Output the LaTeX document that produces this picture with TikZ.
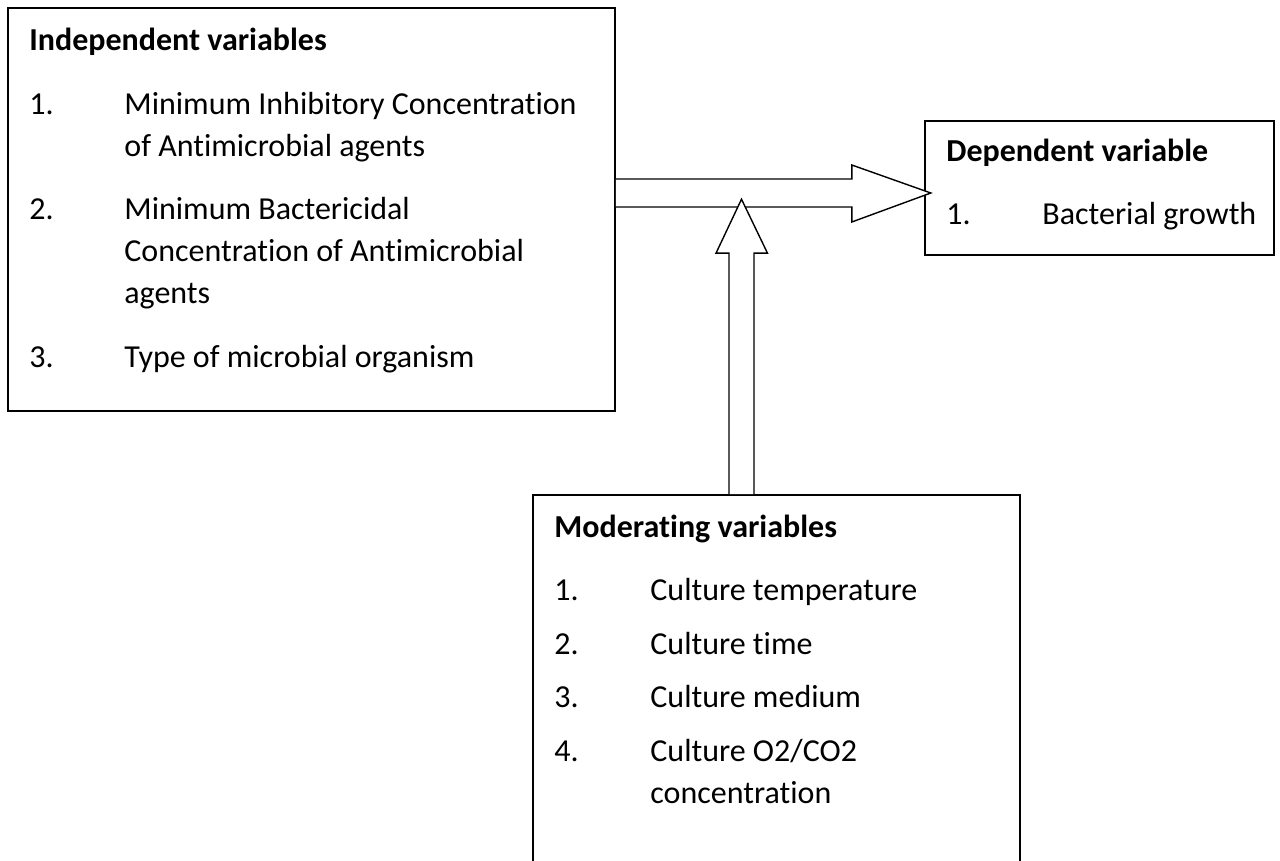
\documentclass[tikz,border=0pt]{standalone}
\usepackage{fontspec}
\setmainfont{Carlito}[Ligatures=NoCommon]
\usepackage{tikz}
\usetikzlibrary{fit}

\tikzset{
	varbox/.style={draw, line width=0.8pt, inner sep=0pt},
	heading/.style={anchor=base west, inner sep=0pt, font=\fontsize{16}{21}\selectfont\bfseries},
	itemno/.style={anchor=base west, inner sep=0pt},
	itemtxt/.style={anchor=base west, inner sep=0pt},
	blockarrow/.style={draw, fill=white, line width=0.7pt, line join=miter}
}

\begin{document}
\begin{tikzpicture}[x=0.5pt, y=-0.5pt, font=\fontsize{16}{21}\selectfont]
	\useasboundingbox (0,0) rectangle (1280,861);
	\clip (0,0) rectangle (1280,861);
	% boxes
	\node [varbox, fit={(8,8) (615,411)}] (indep) {};
	\node [varbox, fit={(925,121) (1274,255)}] (dep) {};
	\node [varbox, fit={(533,495) (1020,900)}] (moder) {};
	% independent variables
	\node [heading] (indephead) at (29,51) {Independent variables};
	\node [itemno] (indepno1) at (29,115) {1.};
	\node [itemtxt] (indeptxt1a) at (124,115) {Minimum Inhibitory Concentration};
	\node [itemtxt] (indeptxt1b) at (124,157) {of Antimicrobial agents};
	\node [itemno] (indepno2) at (29,220) {2.};
	\node [itemtxt] (indeptxt2a) at (124,220) {Minimum Bactericidal};
	\node [itemtxt] (indeptxt2b) at (124,262) {Concentration of Antimicrobial};
	\node [itemtxt] (indeptxt2c) at (124,304) {agents};
	\node [itemno] (indepno3) at (29,367) {3.};
	\node [itemtxt] (indeptxt3) at (124,367) {Type of microbial organism};
	% dependent variable
	\node [heading] (dephead) at (946,162) {Dependent variable};
	\node [itemno] (depno1) at (946,225) {1.};
	\node [itemtxt] (deptxt1) at (1042,225) {Bacterial growth};
	% moderating variables
	\node [heading] (moderhead) at (554,537) {Moderating variables};
	\node [itemno] (moderno1) at (554,600) {1.};
	\node [itemtxt] (modertxt1) at (650,600) {Culture temperature};
	\node [itemno] (moderno2) at (554,654) {2.};
	\node [itemtxt] (modertxt2) at (650,654) {Culture time};
	\node [itemno] (moderno3) at (554,707) {3.};
	\node [itemtxt] (modertxt3) at (650,707) {Culture medium};
	\node [itemno] (moderno4) at (554,761) {4.};
	\node [itemtxt] (modertxt4a) at (650,761) {Culture O2/CO2};
	\node [itemtxt] (modertxt4b) at (650,803) {concentration};
	% arrows
	\coordinate (hstart) at (indep.east |- 0,193);
	\coordinate (vstart) at (moder.north -| 741.5,0);
	\draw [blockarrow] (hstart) ++(0,-14) -- ++(236,0) -- ++(0,-14) -- ++(79,28)
		-- ++(-79,29) -- ++(0,-15) -- ++(-236,0);
	\draw [blockarrow] (vstart) ++(-12.5,0) -- ++(0,-241) -- ++(-13,0) -- ++(25.5,-54)
		-- ++(26,54) -- ++(-13.5,0) -- ++(0,241);
\end{tikzpicture}
\end{document}
